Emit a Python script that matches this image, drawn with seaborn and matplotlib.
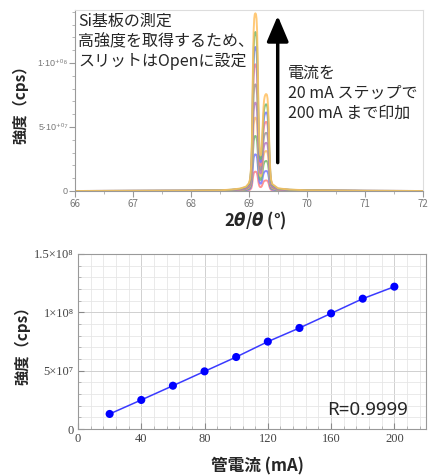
import numpy as np
import pandas as pd
import matplotlib
matplotlib.use("Agg")
import matplotlib.pyplot as plt
from matplotlib.ticker import MultipleLocator
import seaborn as sns

# ---------------- data ----------------
# 2theta positions and normalised profile (fraction of Ka1 peak)
two_theta = [66.0, 67.0, 68.0, 68.5, 68.7, 68.85, 68.95, 69.0, 69.02, 69.04, 69.05, 69.06,
             69.07, 69.08, 69.09, 69.10, 69.11, 69.12, 69.13, 69.14, 69.15, 69.16, 69.17,
             69.18, 69.19, 69.20, 69.21, 69.22, 69.23, 69.24, 69.25, 69.26, 69.27, 69.28,
             69.29, 69.30, 69.31, 69.32, 69.33, 69.34, 69.35, 69.36, 69.37, 69.38, 69.40,
             69.5, 69.7, 70.0, 71.0, 72.0]
profile = [0.0, 0.001, 0.002, 0.004, 0.008, 0.014, 0.025, 0.045, 0.07, 0.15, 0.28, 0.50,
           0.74, 0.90, 0.97, 0.995, 1.0, 0.995, 0.97, 0.90, 0.74, 0.52, 0.35,
           0.25, 0.21, 0.20, 0.21, 0.25, 0.32, 0.40, 0.47, 0.51, 0.53, 0.54,
           0.545, 0.545, 0.54, 0.52, 0.47, 0.38, 0.26, 0.16, 0.10, 0.065, 0.04,
           0.015, 0.008, 0.004, 0.001, 0.0]
# Ka1 peak heights (cps) for each tube current
scan_current = [20, 40, 60, 80, 100, 120, 140, 160, 180, 200]
scan_peak = [15.1e6, 28.6e6, 43.0e6, 57.3e6, 69.0e6, 83.3e6, 99.0e6, 112.5e6, 124.2e6, 138.8e6]
scan_colors = ['#ff8080', '#7878ff', '#6fb86f', '#ffc060', '#b878c8', '#999999',
               '#ff8080', '#7878ff', '#6fb86f', '#ffc060']

# integrated intensity vs tube current
current_ma = [20, 40, 60, 80, 100, 120, 140, 160, 180, 200]
intensity = [12.9e6, 24.9e6, 37.1e6, 49.4e6, 61.7e6, 74.9e6, 86.6e6, 99.1e6, 111.7e6, 122.0e6]

top_yticks = [0, 5e7, 1e8]
top_yticklabels = ['0', '5·10⁺⁰⁷', '1·10⁺⁰⁸']
bot_yticks = [0, 5e7, 1e8, 1.5e8]
bot_yticklabels = ['0', '5×10⁷', '1×10⁸', '1.5×10⁸']
bot_xticks = [0, 40, 80, 120, 160, 200]

# ---------------- style ----------------
sns.set_style("white")
plt.rcParams['font.family'] = ['Noto Sans CJK JP', 'DejaVu Sans']
plt.rcParams['mathtext.fontset'] = 'custom'
plt.rcParams['mathtext.it'] = 'DejaVu Sans:italic:bold'
plt.rcParams['mathtext.rm'] = 'DejaVu Sans:bold'

W, H = 429, 475
fig = plt.figure(figsize=(W / 100, H / 100), dpi=100)


def box(l, t, r, b):
    return [l / W, 1 - b / H, (r - l) / W, (b - t) / H]


# ---------------- top: XRD scans ----------------
ax1 = fig.add_axes(box(75, 10, 423, 191))
rows = []
for cur, pk in zip(scan_current, scan_peak):
    for x, p in zip(two_theta, profile):
        rows.append({'tt': x, 'cps': p * pk, 'current': cur})
scans = pd.DataFrame(rows)
sns.lineplot(data=scans, x='tt', y='cps', hue='current', palette=scan_colors,
             estimator=None, sort=False, legend=False, lw=1.4, alpha=0.85, ax=ax1)

ax1.set_xlim(66, 72)
ax1.set_ylim(0, 1.414e8)
ax1.set_xticks(range(66, 73))
ax1.xaxis.set_minor_locator(MultipleLocator(0.5))
ax1.set_yticks(top_yticks, top_yticklabels, fontfamily=['Liberation Sans', 'DejaVu Sans'])
ax1.yaxis.set_minor_locator(MultipleLocator(1e7))
ax1.tick_params(axis='x', which='major', bottom=True, length=4, color='#999999',
                labelsize=7, labelcolor='#777777', pad=2)
ax1.tick_params(axis='y', which='major', left=True, length=4, color='#999999',
                labelsize=6.5, labelcolor='#777777', pad=1)
ax1.tick_params(which='minor', bottom=True, left=True, length=2, color='#aaaaaa')
for s in ['top', 'right']:
    ax1.spines[s].set_color('#dddddd')
for s in ['left', 'bottom']:
    ax1.spines[s].set_color('#999999')
ax1.set_xlabel('2$\\theta$/$\\theta$ (°)', fontsize=12, fontweight='bold')
ax1.set_ylabel('強度（cps）', fontsize=11, fontweight='bold')
ax1.xaxis.set_label_coords(0.517, -0.105)
ax1.yaxis.set_label_coords(-0.135, 0.5)

ax1.text(0.009, 0.985, 'Si基板の測定\n高強度を取得するため、\nスリットはOpenに設定',
         transform=ax1.transAxes, ha='left', va='top', fontsize=11.5, linespacing=1.25)
ax1.text(0.612, 0.70, '電流を\n20 mA ステップで\n200 mA まで印加',
         transform=ax1.transAxes, ha='left', va='top', fontsize=11.5, linespacing=1.25)
ax1.annotate('', xy=(69.495, 1.39e8), xytext=(69.495, 2.0e7),
             arrowprops=dict(arrowstyle='-|>,head_length=1.3,head_width=0.55',
                             lw=2.5, color='black', mutation_scale=12))

# ---------------- bottom: intensity vs current ----------------
ax2 = fig.add_axes(box(78, 254, 426, 429))
lin = pd.DataFrame({'mA': current_ma, 'cps': intensity})
sns.lineplot(data=lin, x='mA', y='cps', color='#3a3aff', lw=1.1, ax=ax2)
sns.scatterplot(data=lin, x='mA', y='cps', color='#0000ff', s=34, edgecolor='none',
                zorder=3, ax=ax2)

ax2.set_xlim(0, 220)
ax2.set_ylim(0, 1.5e8)
ax2.set_xticks(bot_xticks, [str(v) for v in bot_xticks],
               fontfamily=['Liberation Serif', 'DejaVu Serif'])
ax2.set_yticks(bot_yticks, bot_yticklabels, fontfamily=['Liberation Serif', 'DejaVu Serif'])
ax2.xaxis.set_minor_locator(MultipleLocator(8))
ax2.yaxis.set_minor_locator(MultipleLocator(1e7))
ax2.grid(which='major', color='#d0d0d0', lw=0.7)
ax2.grid(which='minor', color='#e6e6e6', lw=0.6)
ax2.set_axisbelow(True)
ax2.tick_params(which='major', direction='in', bottom=True, left=True, length=4,
                color='#888888', labelsize=9, labelcolor='#444444', pad=3)
ax2.tick_params(which='minor', direction='in', bottom=True, left=True, length=2,
                color='#aaaaaa')
for s in ax2.spines.values():
    s.set_color('#999999')
ax2.set_xlabel('管電流 (mA)', fontsize=12, fontweight='bold')
ax2.set_ylabel('強度（cps）', fontsize=11, fontweight='bold')
ax2.xaxis.set_label_coords(0.517, -0.165)
ax2.yaxis.set_label_coords(-0.138, 0.5)
ax2.text(0.948, 0.109, 'R=0.9999', transform=ax2.transAxes, ha='right', va='center',
         fontsize=13.5, fontfamily=['Noto Sans', 'DejaVu Sans'])

fig.savefig('out.png', dpi=100)
